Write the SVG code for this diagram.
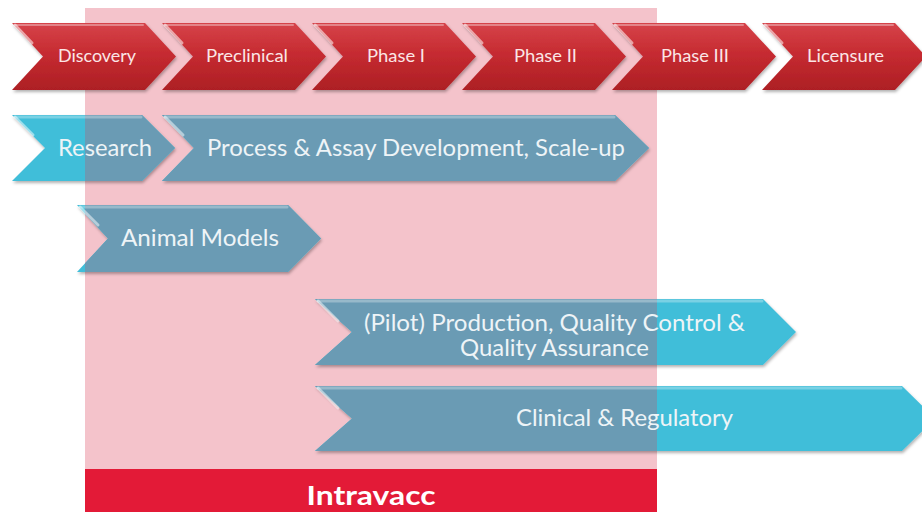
<svg xmlns="http://www.w3.org/2000/svg" width="922" height="512" viewBox="0 0 922 512">
<style>
.rl{font-family:Lato,"Open Sans","Liberation Sans",sans-serif;font-size:16.5px;fill:#FBE6E6;text-anchor:start}
.bl{font-family:Lato,"Open Sans","Liberation Sans",sans-serif;font-size:22.5px;fill:#EEF4F7;text-anchor:start}
.band{font-family:Lato,"Open Sans","Liberation Sans",sans-serif;font-size:27px;font-weight:bold;fill:#FFFFFF}
.hi{fill:none;stroke:#FFFFFF;stroke-linecap:round}
</style>
<defs>
<linearGradient id="redG" x1="0" y1="0" x2="0" y2="1">
<stop offset="0" stop-color="#D6434A"/>
<stop offset="0.45" stop-color="#C62B31"/>
<stop offset="1" stop-color="#AD1F24"/>
</linearGradient>
<filter id="sh" x="-5%" y="-10%" width="110%" height="130%">
<feDropShadow dx="1" dy="2" stdDeviation="1.5" flood-color="#000" flood-opacity="0.3"/>
</filter>
<clipPath id="pinkClip"><rect x="85" y="0" width="572" height="512"/></clipPath>
<path id="redChev" d="M0 0 L133 0 L164 33.5 L133 67 L0 67 L31 33.5 Z"/>
</defs>

<g id="intravacc-zone">
<rect x="85" y="8" width="572" height="504" fill="#D52240" fill-opacity="0.27"/>
<rect x="85" y="469" width="572" height="43" fill="#E31A37"/>
<text class="band" x="371" y="505" text-anchor="middle" textLength="129" lengthAdjust="spacingAndGlyphs">Intravacc</text>
</g>

<g id="connectors"></g>

<g id="discovery" transform="translate(12,23)">
<use href="#redChev" fill="url(#redG)" filter="url(#sh)"/>
<path class="hi" d="M3 2 L131 2" stroke-width="2" stroke-opacity="0.35"/>
<path class="hi" d="M3 2 L20 20" stroke-width="3" stroke-opacity="0.55"/>
<text class="rl" x="46" y="39" textLength="78" lengthAdjust="spacingAndGlyphs">Discovery</text>
</g>
<g id="preclinical" transform="translate(162,23)">
<use href="#redChev" fill="url(#redG)" filter="url(#sh)"/>
<path class="hi" d="M3 2 L131 2" stroke-width="2" stroke-opacity="0.35"/>
<path class="hi" d="M3 2 L20 20" stroke-width="3" stroke-opacity="0.55"/>
<text class="rl" x="44" y="39" textLength="82" lengthAdjust="spacingAndGlyphs">Preclinical</text>
</g>
<g id="phase1" transform="translate(312,23)">
<use href="#redChev" fill="url(#redG)" filter="url(#sh)"/>
<path class="hi" d="M3 2 L131 2" stroke-width="2" stroke-opacity="0.35"/>
<path class="hi" d="M3 2 L20 20" stroke-width="3" stroke-opacity="0.55"/>
<text class="rl" x="55" y="39" textLength="58" lengthAdjust="spacingAndGlyphs">Phase I</text>
</g>
<g id="phase2" transform="translate(462,23)">
<use href="#redChev" fill="url(#redG)" filter="url(#sh)"/>
<path class="hi" d="M3 2 L131 2" stroke-width="2" stroke-opacity="0.35"/>
<path class="hi" d="M3 2 L20 20" stroke-width="3" stroke-opacity="0.55"/>
<text class="rl" x="52" y="39" textLength="63" lengthAdjust="spacingAndGlyphs">Phase II</text>
</g>
<g id="phase3" transform="translate(612,23)">
<use href="#redChev" fill="url(#redG)" filter="url(#sh)"/>
<path class="hi" d="M3 2 L131 2" stroke-width="2" stroke-opacity="0.35"/>
<path class="hi" d="M3 2 L20 20" stroke-width="3" stroke-opacity="0.55"/>
<text class="rl" x="49" y="39" textLength="68" lengthAdjust="spacingAndGlyphs">Phase III</text>
</g>
<g id="licensure" transform="translate(762,23)">
<use href="#redChev" fill="url(#redG)" filter="url(#sh)"/>
<path class="hi" d="M3 2 L131 2" stroke-width="2" stroke-opacity="0.35"/>
<path class="hi" d="M3 2 L20 20" stroke-width="3" stroke-opacity="0.55"/>
<text class="rl" x="45" y="39" textLength="77" lengthAdjust="spacingAndGlyphs">Licensure</text>
</g>

<g id="research">
<path d="M12 115 L142 115 L175 148 L142 181 L12 181 L45 148 Z" fill="#41BED9" filter="url(#sh)"/>
<path d="M12 115 L142 115 L175 148 L142 181 L12 181 L45 148 Z" fill="#6A9BB4" clip-path="url(#pinkClip)"/>
<path class="hi" d="M15 117 L141 117" stroke-width="3" stroke-opacity="0.3"/>
<path class="hi" d="M15 117 L33 135" stroke-width="3" stroke-opacity="0.5"/>
<text class="bl" x="58" y="156" textLength="94" lengthAdjust="spacingAndGlyphs">Research</text>
</g>
<g id="process">
<path d="M162 115 L615 115 L649 148 L615 181 L162 181 L194 148 Z" fill="#41BED9" filter="url(#sh)"/>
<path d="M162 115 L615 115 L649 148 L615 181 L162 181 L194 148 Z" fill="#6A9BB4" clip-path="url(#pinkClip)"/>
<path class="hi" d="M165 117 L614 117" stroke-width="3" stroke-opacity="0.3"/>
<path class="hi" d="M165 117 L183 135" stroke-width="3" stroke-opacity="0.5"/>
<text class="bl" x="207" y="156" textLength="418" lengthAdjust="spacingAndGlyphs">Process &amp; Assay Development, Scale-up</text>
</g>
<g id="animal-models">
<path d="M77 205 L288 205 L321 238.5 L288 272 L77 272 L108 238.5 Z" fill="#41BED9" filter="url(#sh)"/>
<path d="M77 205 L288 205 L321 238.5 L288 272 L77 272 L108 238.5 Z" fill="#6A9BB4" clip-path="url(#pinkClip)"/>
<path class="hi" d="M80 207 L287 207" stroke-width="3" stroke-opacity="0.3"/>
<path class="hi" d="M80 207 L98 225" stroke-width="3" stroke-opacity="0.5"/>
<text class="bl" x="121" y="246" textLength="158" lengthAdjust="spacingAndGlyphs">Animal Models</text>
</g>
<g id="pilot-production">
<path d="M315 299 L763 299 L796 332 L763 365 L315 365 L352 332 Z" fill="#41BED9" filter="url(#sh)"/>
<path d="M315 299 L763 299 L796 332 L763 365 L315 365 L352 332 Z" fill="#6A9BB4" clip-path="url(#pinkClip)"/>
<path class="hi" d="M318 301 L762 301" stroke-width="3" stroke-opacity="0.3"/>
<path class="hi" d="M318 301 L338 321" stroke-width="3" stroke-opacity="0.5"/>
<text class="bl" x="364" y="331" textLength="381" lengthAdjust="spacingAndGlyphs">(Pilot) Production, Quality Control &amp;</text>
<text class="bl" x="460" y="356" textLength="189" lengthAdjust="spacingAndGlyphs">Quality Assurance</text>
</g>
<g id="clinical-regulatory">
<path d="M315 386 L902 386 L935 418.5 L902 451 L315 451 L352 418.5 Z" fill="#41BED9" filter="url(#sh)"/>
<path d="M315 386 L902 386 L935 418.5 L902 451 L315 451 L352 418.5 Z" fill="#6A9BB4" clip-path="url(#pinkClip)"/>
<path class="hi" d="M318 388 L901 388" stroke-width="3" stroke-opacity="0.3"/>
<path class="hi" d="M318 388 L338 408" stroke-width="3" stroke-opacity="0.5"/>
<text class="bl" x="516" y="426" textLength="217" lengthAdjust="spacingAndGlyphs">Clinical &amp; Regulatory</text>
</g>
</svg>
